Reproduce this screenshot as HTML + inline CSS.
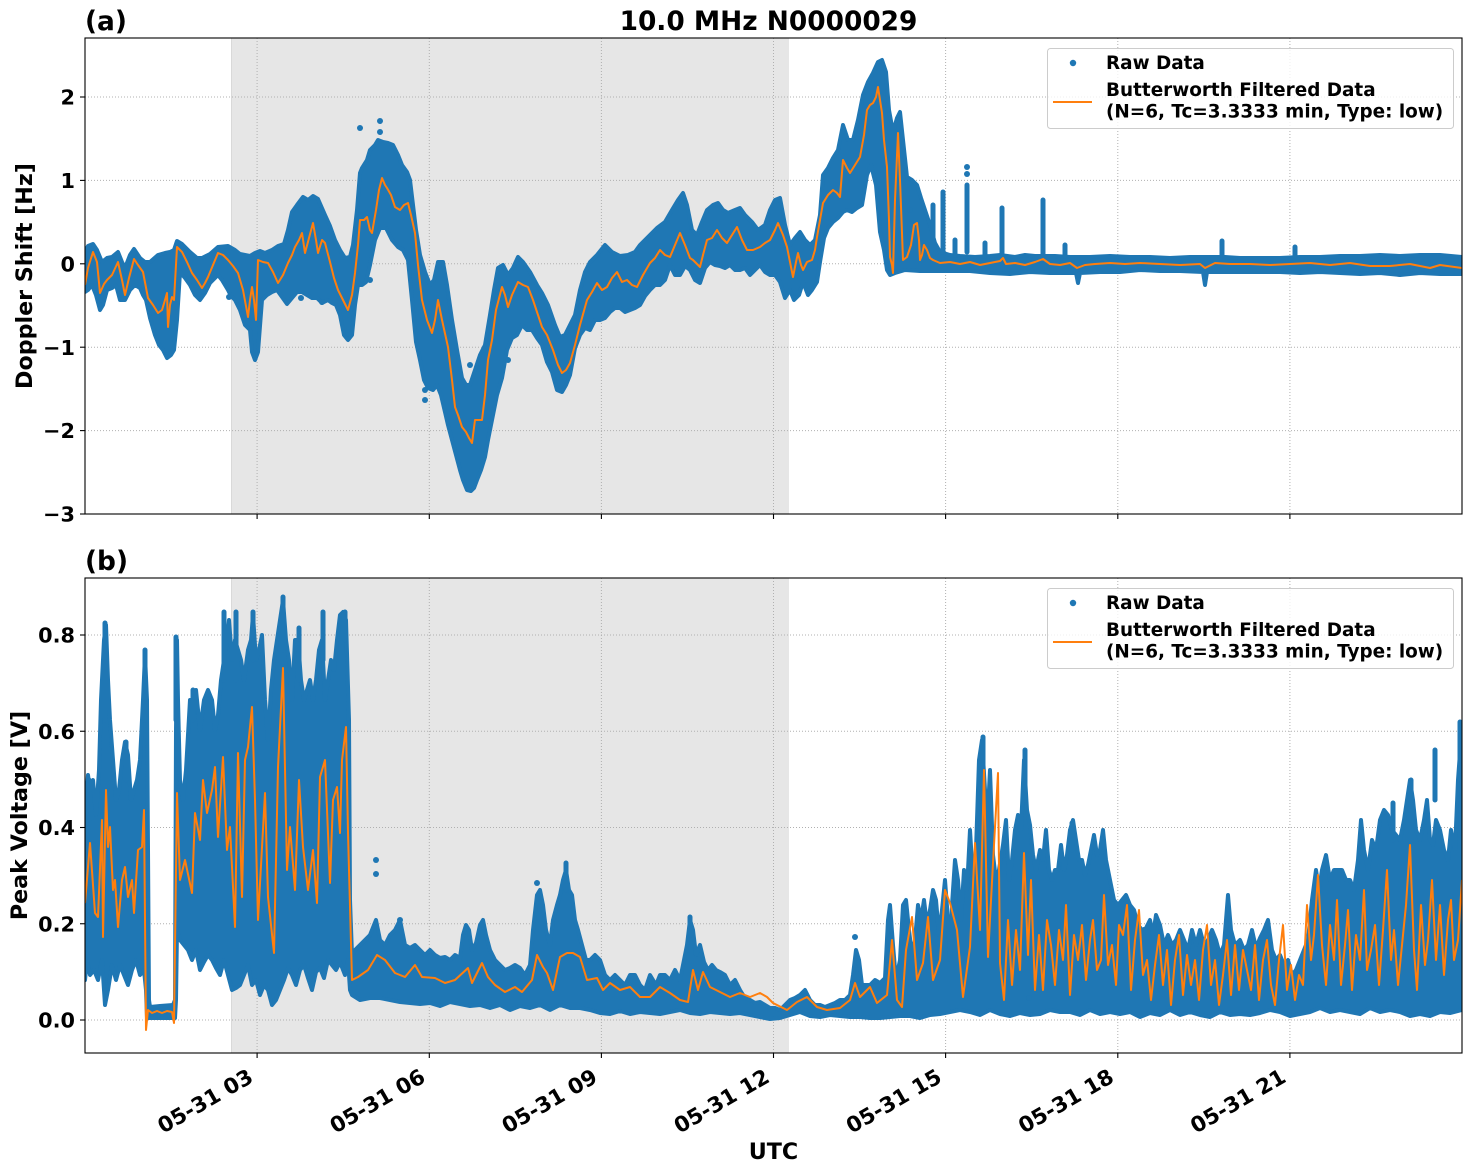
<!DOCTYPE html>
<html><head><meta charset="utf-8"><style>
html,body{margin:0;padding:0;background:#fff;}
svg{display:block;}
text{font-family:"DejaVu Sans","Liberation Sans",sans-serif;font-weight:bold;fill:#000;}
</style></head><body>
<svg width="1472" height="1172" viewBox="0 0 1472 1172" xmlns="http://www.w3.org/2000/svg">
<defs>
<clipPath id="c1"><rect x="85" y="38" width="1377" height="476"/></clipPath>
<clipPath id="c2"><rect x="85" y="578" width="1377" height="475"/></clipPath>
</defs>
<rect width="1472" height="1172" fill="#fff"/>

<!-- shading -->
<rect x="231" y="38" width="558" height="476" fill="#e6e6e6"/>
<rect x="231" y="578" width="558" height="475" fill="#e6e6e6"/>
<line x1="231.5" y1="38" x2="231.5" y2="514" stroke="#d9d9d9" stroke-width="1"/>
<line x1="231.5" y1="578" x2="231.5" y2="1053" stroke="#d9d9d9" stroke-width="1"/>

<!-- grids -->
<g stroke="#b0b0b0" stroke-width="1" stroke-dasharray="1,2" fill="none">
<line x1="257.1" y1="38" x2="257.1" y2="514"/><line x1="429.3" y1="38" x2="429.3" y2="514"/><line x1="601.4" y1="38" x2="601.4" y2="514"/><line x1="773.5" y1="38" x2="773.5" y2="514"/><line x1="945.6" y1="38" x2="945.6" y2="514"/><line x1="1117.8" y1="38" x2="1117.8" y2="514"/><line x1="1289.9" y1="38" x2="1289.9" y2="514"/>
<line x1="85" y1="430.6" x2="1462" y2="430.6"/><line x1="85" y1="347.2" x2="1462" y2="347.2"/><line x1="85" y1="263.8" x2="1462" y2="263.8"/><line x1="85" y1="180.4" x2="1462" y2="180.4"/><line x1="85" y1="97" x2="1462" y2="97"/>
<line x1="257.1" y1="578" x2="257.1" y2="1053"/><line x1="429.3" y1="578" x2="429.3" y2="1053"/><line x1="601.4" y1="578" x2="601.4" y2="1053"/><line x1="773.5" y1="578" x2="773.5" y2="1053"/><line x1="945.6" y1="578" x2="945.6" y2="1053"/><line x1="1117.8" y1="578" x2="1117.8" y2="1053"/><line x1="1289.9" y1="578" x2="1289.9" y2="1053"/>
<line x1="85" y1="1020" x2="1462" y2="1020"/><line x1="85" y1="923.75" x2="1462" y2="923.75"/><line x1="85" y1="827.5" x2="1462" y2="827.5"/><line x1="85" y1="731.25" x2="1462" y2="731.25"/><line x1="85" y1="635" x2="1462" y2="635"/>
</g>

<!-- TOP PANEL DATA -->
<g clip-path="url(#c1)">
<polygon fill="#1f77b4" stroke="#1f77b4" stroke-width="4" stroke-linejoin="round" points="85,252 88,246 93,244 97,250 102,262 107,258 112,257 118,252 122,262 125,268 130,255 134,249 140,258 145,262 150,262 158,255 165,253 170,252 174,250 177,241 182,244 190,252 197,258 202,258 210,254 218,247 228,246 235,250 240,254 245,255 250,256 255,253 260,251 265,253 272,250 278,246 284,244 288,230 292,212 297,205 303,197 308,200 313,196 318,199 325,215 330,226 335,240 340,250 345,258 350,257 353,245 357,210 360,173 362,168 367,160 370,150 375,145 378,140 383,142 388,143 393,145 398,155 402,165 407,172 410,180 413,205 416,230 420,255 425,272 430,285 434,280 438,262 443,262 447,285 452,320 457,350 462,378 466,385 470,385 475,370 480,355 485,345 490,315 494,290 498,268 503,265 508,275 513,268 518,257 523,262 530,272 537,285 542,293 548,305 555,325 560,337 565,335 570,325 575,315 580,290 585,272 590,262 597,255 605,245 612,252 620,256 628,255 635,252 640,245 650,235 657,228 665,222 672,210 678,200 683,193 687,205 692,230 697,235 702,222 707,210 713,205 718,203 723,210 728,213 735,210 740,208 745,215 752,222 758,230 765,225 770,210 775,200 780,198 785,225 790,245 795,238 800,232 805,240 810,245 815,240 820,215 823,175 828,168 833,158 838,150 843,125 848,140 853,140 858,120 863,95 868,82 873,73 878,62 882,60 886,72 889,110 893,132 897,118 900,112 903,140 907,177 912,180 917,185 921,198 925,210 930,225 935,243 940,252 950,255 960,256 975,257 990,256 1000,255 1015,257 1025,255 1035,256 1055,256 1070,257 1090,257 1110,256 1130,257 1150,257 1170,258 1190,257 1210,257 1225,257 1240,258 1260,258 1280,258 1300,257 1320,257 1340,256 1360,256 1380,255 1400,256 1420,255 1440,255 1462,257 1462,274 1440,274 1420,273 1400,275 1380,273 1360,274 1340,273 1320,272 1300,273 1280,272 1260,272 1240,272 1225,272 1207,272 1205,285 1203,272 1180,271 1160,271 1140,270 1120,272 1100,272 1080,273 1078,283 1076,273 1050,273 1030,272 1010,274 990,273 970,271 950,271 935,271 920,271 905,270 895,273 890,275 887,270 884,250 880,232 876,185 871,165 867,175 862,205 857,208 852,212 847,210 843,212 838,218 833,222 828,228 824,238 820,262 817,282 812,290 808,295 803,282 799,295 794,300 790,290 785,298 780,282 775,275 770,275 765,272 760,265 755,270 750,275 745,268 740,270 735,270 730,265 725,268 720,266 715,265 710,262 705,268 700,283 695,280 690,270 685,266 680,275 675,275 670,265 665,280 660,285 655,285 650,290 645,296 640,305 635,308 630,310 625,312 620,308 615,308 610,312 605,318 600,320 595,320 590,330 585,328 580,335 575,348 570,375 566,385 562,392 557,390 552,372 547,362 542,345 537,338 532,330 527,330 522,325 517,335 512,338 507,350 502,378 497,395 492,420 488,440 485,457 481,470 477,480 474,488 471,491 467,490 463,480 460,470 456,455 452,440 448,425 445,412 441,395 437,385 433,390 428,388 424,380 420,360 416,342 412,300 408,260 403,250 398,247 392,240 386,228 380,228 375,240 370,265 366,282 362,285 358,285 355,305 352,335 348,340 344,335 340,315 336,305 332,303 328,300 322,303 317,298 312,298 307,295 302,292 297,292 292,298 287,304 282,297 277,290 272,292 267,295 262,300 258,352 255,360 252,352 250,330 245,325 240,310 235,300 231,296 228,290 222,280 218,275 210,283 205,293 200,300 195,295 190,285 185,278 180,272 177,320 174,350 171,355 167,358 163,350 159,345 155,335 150,318 146,300 143,295 140,288 135,285 130,290 125,300 120,300 116,285 112,288 107,290 103,305 100,310 96,295 92,285 88,290 85,292"/>
<g stroke="#1f77b4" stroke-width="5" stroke-linecap="round">
<line x1="1002" y1="208" x2="1002" y2="256"/><line x1="1043" y1="200" x2="1043" y2="256"/><line x1="967" y1="185" x2="967" y2="252"/><line x1="943" y1="192" x2="943" y2="252"/><line x1="933" y1="205" x2="933" y2="255"/><line x1="1222" y1="241" x2="1222" y2="256"/><line x1="955" y1="240" x2="955" y2="255"/><line x1="985" y1="243" x2="985" y2="255"/><line x1="1065" y1="245" x2="1065" y2="256"/><line x1="1295" y1="247" x2="1295" y2="256"/>
</g>
<g fill="#1f77b4">
<circle cx="360" cy="128" r="3"/><circle cx="380" cy="121" r="3"/><circle cx="380" cy="132" r="3"/><circle cx="425" cy="390" r="3"/><circle cx="425" cy="400" r="3"/><circle cx="470" cy="365" r="3"/><circle cx="508" cy="360" r="3"/><circle cx="370" cy="280" r="3"/><circle cx="229" cy="297" r="3"/><circle cx="301" cy="298" r="3"/><circle cx="322" cy="302" r="3"/><circle cx="967" cy="167" r="3"/><circle cx="967" cy="174" r="3"/><circle cx="910" cy="210" r="3"/><circle cx="900" cy="230" r="3"/>
</g>
<polyline fill="none" stroke="#ff7f0e" stroke-width="2" stroke-linejoin="round" points="85,285 88,268 93,252 97,262 100,293 104,284 107,280 112,275 118,262 122,280 125,295 129,278 134,259 138,265 143,272 148,298 153,305 158,313 162,310 165,300 167,293 168,327 170,305 172,297 174,300 177,247 182,252 187,262 192,273 197,280 202,288 205,283 208,277 213,265 218,253 223,255 228,260 233,266 238,273 243,290 248,317 250,300 252,287 254,300 256,320 258,260 263,262 268,263 273,272 278,283 283,275 288,263 292,255 295,247 299,240 302,233 305,253 309,238 313,223 316,240 318,253 322,240 325,243 330,262 334,278 338,290 343,300 348,310 352,295 355,273 358,245 360,220 364,220 367,217 370,230 372,233 376,210 379,190 382,178 385,185 387,188 391,195 395,207 400,210 404,205 408,203 411,215 415,233 418,265 422,300 427,320 432,333 435,320 438,300 442,320 448,347 452,380 455,407 458,415 462,427 466,432 469,438 472,443 475,420 479,420 482,420 485,395 488,360 492,340 496,310 502,287 505,295 508,307 512,295 518,282 523,285 528,287 533,300 538,315 542,327 547,335 553,350 558,365 562,373 566,370 570,363 575,345 580,325 587,300 592,292 597,283 602,290 607,287 612,278 617,272 622,282 627,280 632,285 637,287 643,275 650,263 655,258 660,250 665,255 670,257 675,245 680,233 685,245 690,258 693,260 700,267 703,255 707,240 712,238 717,230 722,238 727,243 732,235 737,227 742,240 747,250 753,250 760,247 765,243 770,240 775,230 778,223 783,235 787,247 790,262 793,277 796,262 798,253 801,265 803,270 807,262 812,260 815,250 817,237 820,220 823,203 828,195 833,190 837,193 840,197 843,160 847,168 850,173 855,165 860,157 864,135 867,110 870,105 873,103 876,97 878,87 880,100 882,113 884,140 887,167 889,220 890,257 892,265 893,273 895,200 898,133 900,180 903,260 907,257 911,245 914,225 917,223 919,240 920,260 922,255 924,245 927,250 930,258 933,260 940,263 950,262 960,264 970,262 980,265 990,263 1000,261 1003,258 1006,264 1015,263 1025,265 1035,262 1043,259 1050,264 1060,265 1070,263 1077,268 1085,265 1095,264 1110,263 1125,264 1140,263 1160,264 1180,265 1200,264 1205,268 1215,263 1230,264 1250,264 1270,265 1290,264 1310,263 1330,265 1350,263 1370,266 1390,266 1410,264 1430,268 1440,265 1462,268"/>
</g>

<!-- BOTTOM PANEL DATA -->
<g clip-path="url(#c2)">
<polygon fill="#1f77b4" stroke="#1f77b4" stroke-width="4" stroke-linejoin="round" points="85,815 88,775 90,790 93,780 96,815 99,770 101,700 104,640 106,625 108,680 110,720 113,760 116,800 119,790 122,760 125,742 128,755 131,800 134,790 137,780 140,760 143,700 145,655 147,700 148,850 149,1000 150,1007 160,1006 173,1005 175,1000 176,730 177,640 178,700 180,780 183,800 186,770 190,700 193,720 196,690 200,730 204,700 208,690 212,700 215,730 218,715 221,680 224,660 227,640 229,620 232,660 235,640 238,650 241,660 244,680 248,650 251,640 253,615 256,660 259,650 262,635 265,700 268,740 271,690 274,660 277,640 280,620 283,600 286,640 289,660 292,700 295,640 298,640 301,680 304,700 307,690 310,680 313,700 316,680 319,650 322,640 325,700 328,680 331,660 334,670 337,640 340,615 343,612 346,620 349,720 350,900 352,955 355,950 360,945 365,940 370,935 376,920 380,940 385,945 390,935 395,930 400,920 405,945 410,948 415,945 420,950 425,955 430,950 435,955 440,958 445,957 450,960 455,955 460,958 463,935 466,925 469,930 472,950 476,943 480,925 483,920 486,935 490,950 495,960 500,965 505,970 510,968 515,965 520,968 525,975 530,965 533,930 537,895 540,890 543,905 546,930 550,945 553,920 557,905 560,895 563,880 566,870 569,890 572,895 575,920 578,930 582,945 586,960 590,960 595,955 600,960 605,975 610,980 615,975 620,980 625,985 630,975 635,975 640,985 645,990 650,975 653,980 656,985 660,975 665,975 670,980 675,970 680,980 684,960 687,945 690,920 693,930 696,955 700,945 704,962 708,970 712,965 716,970 720,972 725,975 730,985 735,980 740,990 745,998 750,1000 755,1003 760,1002 765,1005 770,1008 775,1008 780,1010 785,1005 790,1000 795,998 800,995 805,990 810,1000 815,1005 820,1005 825,1007 830,1005 835,1003 840,1000 845,1000 850,995 853,975 856,950 859,960 862,985 865,985 870,985 875,980 880,983 885,978 888,920 890,905 893,945 896,980 900,960 903,905 906,900 909,930 912,955 915,940 918,905 921,920 924,900 927,925 930,910 933,890 936,900 939,935 942,910 945,880 948,920 950,960 952,905 955,860 958,880 961,920 964,870 967,890 970,830 973,880 976,850 979,760 982,740 985,790 987,830 990,770 993,855 996,880 999,870 1003,845 1006,820 1009,880 1012,860 1015,830 1018,815 1021,830 1024,760 1027,810 1030,825 1033,855 1036,870 1040,850 1043,860 1046,830 1049,870 1052,880 1055,870 1058,870 1061,845 1064,870 1067,855 1070,830 1073,820 1076,840 1079,860 1082,860 1085,875 1088,865 1091,850 1094,835 1097,855 1100,850 1103,830 1106,860 1110,880 1114,900 1118,905 1122,900 1126,895 1130,905 1134,910 1138,925 1142,930 1146,928 1150,920 1153,935 1156,915 1160,925 1164,945 1168,935 1172,945 1176,940 1180,930 1184,940 1188,950 1192,930 1196,945 1200,930 1204,945 1208,940 1212,930 1216,940 1220,955 1224,945 1228,895 1231,930 1235,945 1240,940 1244,950 1248,945 1252,930 1256,948 1260,938 1264,930 1268,920 1272,950 1276,960 1280,955 1284,965 1288,960 1292,975 1296,970 1300,960 1304,950 1308,940 1312,900 1316,870 1319,890 1322,870 1326,855 1330,880 1334,870 1338,870 1342,870 1346,880 1350,880 1354,890 1358,860 1361,820 1364,850 1368,870 1372,840 1376,850 1380,820 1384,810 1388,815 1392,830 1396,835 1400,840 1404,820 1407,800 1410,780 1413,800 1416,830 1420,840 1424,820 1427,800 1430,840 1433,845 1436,820 1440,830 1444,850 1448,860 1451,830 1455,850 1458,780 1462,725 1462,1010 1450,1013 1440,1012 1430,1016 1420,1014 1410,1016 1400,1012 1390,1010 1380,1012 1370,1008 1360,1014 1350,1012 1340,1010 1330,1012 1320,1008 1310,1012 1300,1014 1290,1016 1280,1012 1270,1010 1260,1013 1250,1015 1240,1014 1230,1015 1220,1012 1210,1017 1200,1015 1190,1012 1180,1015 1170,1010 1160,1015 1150,1013 1140,1017 1130,1012 1120,1014 1110,1012 1100,1014 1090,1010 1080,1015 1070,1012 1060,1012 1050,1010 1040,1014 1030,1015 1020,1013 1010,1016 1000,1014 990,1010 980,1015 970,1012 960,1010 950,1012 940,1014 930,1015 920,1018 910,1016 900,1016 890,1017 880,1018 870,1018 860,1017 850,1017 840,1016 830,1015 820,1017 810,1016 800,1012 790,1015 780,1018 770,1019 760,1017 750,1015 740,1013 730,1014 720,1013 710,1012 700,1014 690,1013 680,1010 670,1012 660,1014 650,1013 640,1012 630,1014 620,1011 610,1014 600,1013 590,1010 580,1008 570,1008 560,1005 550,1010 540,1005 530,1008 520,1006 510,1010 500,1005 490,1008 480,1005 470,1006 460,1004 450,1002 440,1006 430,1003 420,1004 410,1003 400,1002 390,1000 380,998 370,998 360,1000 352,995 350,990 348,960 345,975 340,962 336,970 332,965 328,960 324,978 320,968 316,972 312,990 308,978 304,965 300,970 296,985 292,975 288,968 284,980 280,990 276,1000 272,1005 268,990 264,985 260,995 256,980 252,985 248,965 244,975 240,985 236,988 232,990 228,975 224,960 220,975 216,968 212,960 208,955 204,962 200,970 196,950 192,960 188,950 184,945 180,940 177,930 176,1000 175,1018 160,1018 147,1018 146,990 144,970 140,975 136,960 132,970 128,985 124,975 120,965 116,980 112,965 108,990 105,1005 102,960 98,980 94,970 90,975 87,960 85,980"/>
<g stroke="#1f77b4" stroke-width="5" stroke-linecap="round">
<line x1="89" y1="780" x2="89" y2="820"/><line x1="105" y1="623" x2="105" y2="720"/><line x1="126" y1="742" x2="126" y2="780"/><line x1="145" y1="650" x2="145" y2="720"/><line x1="176" y1="637" x2="176" y2="720"/><line x1="193" y1="690" x2="193" y2="720"/><line x1="224" y1="612" x2="224" y2="680"/><line x1="236" y1="612" x2="236" y2="680"/><line x1="253" y1="612" x2="253" y2="660"/><line x1="283" y1="597" x2="283" y2="650"/><line x1="299" y1="628" x2="299" y2="680"/><line x1="323" y1="612" x2="323" y2="660"/><line x1="345" y1="612" x2="345" y2="640"/><line x1="983" y1="737" x2="983" y2="790"/><line x1="1025" y1="750" x2="1025" y2="800"/><line x1="1072" y1="823" x2="1072" y2="850"/><line x1="1393" y1="803" x2="1393" y2="840"/><line x1="1411" y1="780" x2="1411" y2="820"/><line x1="1435" y1="750" x2="1435" y2="800"/><line x1="1460" y1="722" x2="1460" y2="760"/><line x1="566" y1="863" x2="566" y2="890"/><line x1="690" y1="917" x2="690" y2="935"/>
</g>
<g fill="#1f77b4">
<circle cx="376" cy="860" r="3"/><circle cx="376" cy="874" r="3"/><circle cx="400" cy="920" r="3"/><circle cx="537" cy="883" r="3"/><circle cx="855" cy="937" r="3"/><circle cx="1029" cy="998" r="3"/>
</g>
<polyline fill="none" stroke="#ff7f0e" stroke-width="2" stroke-linejoin="round" points="85,903 90,843 95,913 98,917 102,820 103,937 106,790 108,847 110,827 113,890 115,880 118,927 122,880 125,867 128,897 132,880 134,913 138,850 142,847 144,810 146,1030 148,1010 152,1013 157,1011 162,1013 167,1011 172,1012 174,1023 177,793 180,880 185,860 192,893 195,813 200,840 203,780 207,813 212,790 215,767 218,837 223,757 227,850 230,827 235,927 238,753 242,897 245,760 248,747 252,707 255,800 258,920 265,793 268,897 274,953 278,767 283,668 287,870 290,827 295,890 299,780 303,847 308,890 313,850 317,903 320,777 325,760 330,883 333,800 337,787 340,833 342,760 346,727 348,833 352,980 358,977 368,970 377,955 385,960 395,973 405,977 415,965 422,977 435,978 445,983 455,980 468,968 472,983 482,963 488,977 495,985 505,992 515,987 522,992 532,980 537,955 543,967 547,973 553,990 560,957 567,953 573,953 580,957 587,980 597,978 603,990 610,983 620,990 630,987 640,997 650,997 660,987 670,993 680,1000 688,1002 693,970 698,990 703,972 710,987 720,992 730,997 740,993 750,997 760,993 767,997 773,1003 787,1010 797,1002 807,997 817,1007 827,1010 840,1008 850,1000 855,983 860,997 870,987 877,1003 887,995 892,940 897,1000 902,1007 906,950 912,917 917,980 923,963 928,917 933,980 940,960 945,890 950,903 957,930 963,997 970,947 975,843 980,930 984,770 988,957 993,863 998,773 1000,963 1004,1000 1008,920 1012,985 1016,930 1020,970 1024,853 1028,955 1031,880 1035,990 1039,935 1043,990 1047,920 1051,945 1055,985 1059,930 1063,960 1066,905 1070,995 1074,935 1078,960 1082,925 1086,980 1090,940 1093,920 1097,970 1101,960 1104,895 1108,965 1112,945 1116,985 1119,925 1123,935 1127,905 1131,990 1135,940 1139,910 1143,975 1147,960 1151,1000 1155,965 1159,935 1163,985 1167,950 1171,1005 1175,960 1179,935 1183,995 1187,955 1191,985 1195,960 1199,1000 1203,950 1207,925 1211,985 1215,960 1219,1005 1223,975 1227,940 1231,995 1235,945 1239,990 1243,950 1247,970 1251,990 1255,945 1259,1000 1263,960 1267,940 1271,985 1275,1005 1279,960 1283,925 1287,990 1291,965 1295,1000 1299,975 1303,985 1307,905 1311,960 1314,935 1318,875 1322,945 1326,985 1330,925 1334,960 1337,900 1341,985 1345,945 1348,910 1352,990 1356,935 1360,960 1364,890 1367,970 1371,950 1375,925 1379,985 1383,930 1387,870 1391,960 1394,930 1398,985 1402,945 1406,905 1410,845 1414,950 1417,990 1421,905 1425,965 1428,940 1432,880 1436,960 1440,905 1444,975 1448,920 1451,900 1454,960 1458,940 1462,880"/>
</g>

<!-- axes frames -->
<rect x="85" y="38" width="1377" height="476" fill="none" stroke="#000" stroke-width="1.1"/>
<rect x="85" y="578" width="1377" height="475" fill="none" stroke="#000" stroke-width="1.1"/>

<!-- ticks -->
<g stroke="#000" stroke-width="1.1">
<line x1="80" y1="514" x2="85" y2="514"/><line x1="80" y1="430.6" x2="85" y2="430.6"/><line x1="80" y1="347.2" x2="85" y2="347.2"/><line x1="80" y1="263.8" x2="85" y2="263.8"/><line x1="80" y1="180.4" x2="85" y2="180.4"/><line x1="80" y1="97" x2="85" y2="97"/>
<line x1="80" y1="1020" x2="85" y2="1020"/><line x1="80" y1="923.75" x2="85" y2="923.75"/><line x1="80" y1="827.5" x2="85" y2="827.5"/><line x1="80" y1="731.25" x2="85" y2="731.25"/><line x1="80" y1="635" x2="85" y2="635"/>
<line x1="257.1" y1="514" x2="257.1" y2="519"/><line x1="429.3" y1="514" x2="429.3" y2="519"/><line x1="601.4" y1="514" x2="601.4" y2="519"/><line x1="773.5" y1="514" x2="773.5" y2="519"/><line x1="945.6" y1="514" x2="945.6" y2="519"/><line x1="1117.8" y1="514" x2="1117.8" y2="519"/><line x1="1289.9" y1="514" x2="1289.9" y2="519"/>
<line x1="257.1" y1="1053" x2="257.1" y2="1058"/><line x1="429.3" y1="1053" x2="429.3" y2="1058"/><line x1="601.4" y1="1053" x2="601.4" y2="1058"/><line x1="773.5" y1="1053" x2="773.5" y2="1058"/><line x1="945.6" y1="1053" x2="945.6" y2="1058"/><line x1="1117.8" y1="1053" x2="1117.8" y2="1058"/><line x1="1289.9" y1="1053" x2="1289.9" y2="1058"/>
</g>

<!-- y tick labels -->
<g font-size="20.8" text-anchor="end">
<text x="75" y="521.6">−3</text><text x="75" y="438.2">−2</text><text x="75" y="354.8">−1</text><text x="75" y="271.4">0</text><text x="75" y="188">1</text><text x="75" y="104.6">2</text>
<text x="75" y="1027.6">0.0</text><text x="75" y="931.4">0.2</text><text x="75" y="835.1">0.4</text><text x="75" y="738.9">0.6</text><text x="75" y="642.6">0.8</text>
</g>

<!-- x tick labels -->
<g font-size="21.4" text-anchor="end">
<text transform="translate(254.6,1081) rotate(-30)">05-31 03</text>
<text transform="translate(426.8,1081) rotate(-30)">05-31 06</text>
<text transform="translate(598.9,1081) rotate(-30)">05-31 09</text>
<text transform="translate(771,1081) rotate(-30)">05-31 12</text>
<text transform="translate(943.1,1081) rotate(-30)">05-31 15</text>
<text transform="translate(1115.3,1081) rotate(-30)">05-31 18</text>
<text transform="translate(1287.4,1081) rotate(-30)">05-31 21</text>
</g>

<!-- axis labels -->
<text font-size="22.2" text-anchor="middle" x="773.5" y="1159">UTC</text>
<text font-size="22.2" text-anchor="middle" transform="translate(32,276) rotate(-90)">Doppler Shift [Hz]</text>
<text font-size="22.2" text-anchor="middle" transform="translate(27,815.5) rotate(-90)">Peak Voltage [V]</text>

<!-- titles -->
<text font-size="26.4" text-anchor="middle" x="768.5" y="30">10.0 MHz N0000029</text>
<text font-size="26.4" x="85" y="30">(a)</text>
<text font-size="26.4" x="85" y="570">(b)</text>

<!-- legends -->
<g>
<rect x="1047.5" y="48.5" width="406" height="80" rx="3" ry="3" fill="#fff" fill-opacity="0.8" stroke="#cccccc" stroke-width="1"/>
<circle cx="1073" cy="63" r="3.2" fill="#1f77b4"/>
<line x1="1053" y1="102" x2="1092" y2="102" stroke="#ff7f0e" stroke-width="2"/>
<g font-size="18.4">
<text x="1106" y="69">Raw Data</text>
<text x="1106" y="96">Butterworth Filtered Data</text>
<text x="1106" y="117.5">(N=6, Tc=3.3333 min, Type: low)</text>
</g>
</g>
<g>
<rect x="1047.5" y="588.5" width="406" height="80" rx="3" ry="3" fill="#fff" fill-opacity="0.8" stroke="#cccccc" stroke-width="1"/>
<circle cx="1073" cy="603" r="3.2" fill="#1f77b4"/>
<line x1="1053" y1="642" x2="1092" y2="642" stroke="#ff7f0e" stroke-width="2"/>
<g font-size="18.4">
<text x="1106" y="609">Raw Data</text>
<text x="1106" y="636">Butterworth Filtered Data</text>
<text x="1106" y="657.5">(N=6, Tc=3.3333 min, Type: low)</text>
</g>
</g>
</svg>
</body></html>
